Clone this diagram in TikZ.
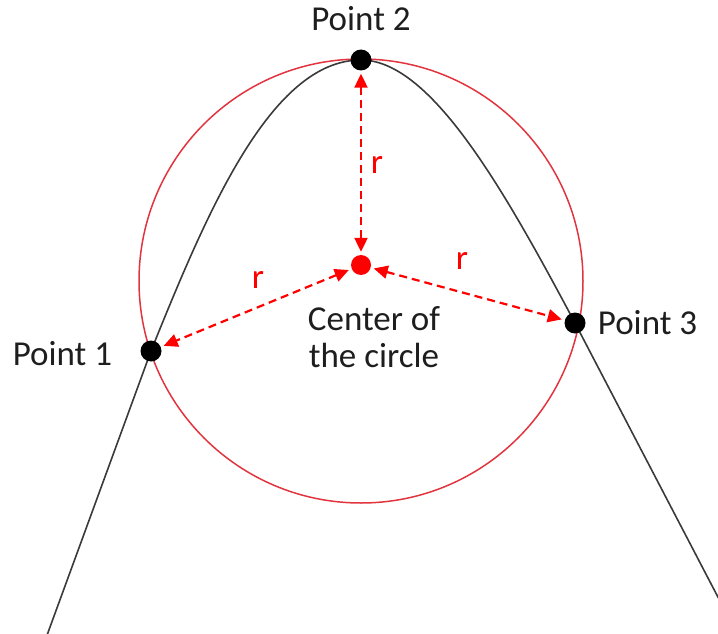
\documentclass[tikz,border=0pt]{standalone}
\usepackage{fontspec}
\setmainfont{Carlito}
\usepackage{tikz}
\usetikzlibrary{arrows.meta,positioning}
\definecolor{cerclerouge}{HTML}{E2343F}
\definecolor{flecherouge}{HTML}{FF0000}
\definecolor{courbegris}{HTML}{3A3A3A}
\definecolor{textenoir}{HTML}{1E1E1E}

\begin{document}
\begin{tikzpicture}[x=1pt,y=-1pt,
  every node/.style={font=\fontsize{35}{37}\selectfont,text=textenoir,inner sep=0pt},
  sommet/.style={circle,fill=black,minimum size=21pt},
  centre/.style={circle,fill=flecherouge,minimum size=20pt},
  rayon/.style={flecherouge,line width=2.2pt,dash pattern=on 8pt off 5pt,
    {Triangle[length=14pt,width=13pt]}-{Triangle[length=14pt,width=13pt]},
    shorten <=3pt,shorten >=3pt},
  etiq/.style={text=flecherouge}]
  \useasboundingbox (0,0) rectangle (718,634);
  % courbe
  \draw[courbegris,line width=1.6pt] (46,638) -- (151,351)
    .. controls (207,212) and (271,60) .. (361,60)
    .. controls (431,60) and (504.5,190.6) .. (575,323) -- (720,601);
  % cercle
  \draw[cerclerouge,line width=1.5pt] (361,281) circle (222);
  % points sur la courbe et centre
  \node[sommet] (p1) at (151,351) {};
  \node[sommet] (p2) at (361,60) {};
  \node[sommet] (p3) at (575,323) {};
  \node[centre] (c) at (361,265) {};
  % rayons
  \draw[rayon] (c) -- (p2);
  \draw[rayon] (c) -- (p1);
  \draw[rayon] (c) -- (p3);
  \node[etiq] (r2) at (377,165) {r};
  \node[etiq] (r1) at (258,280) {r};
  \node[etiq] (r3) at (462,261) {r};
  % étiquettes
  \node[above=18pt of p2] (l2) {Point 2};
  \node[left=28pt of p1,yshift=-3pt] (l1) {Point 1};
  \node[right=12pt of p3] (l3) {Point 3};
  \node[below=31pt of c,xshift=13pt,align=center] (ct) {Center of\\the circle};
\end{tikzpicture}
\end{document}
